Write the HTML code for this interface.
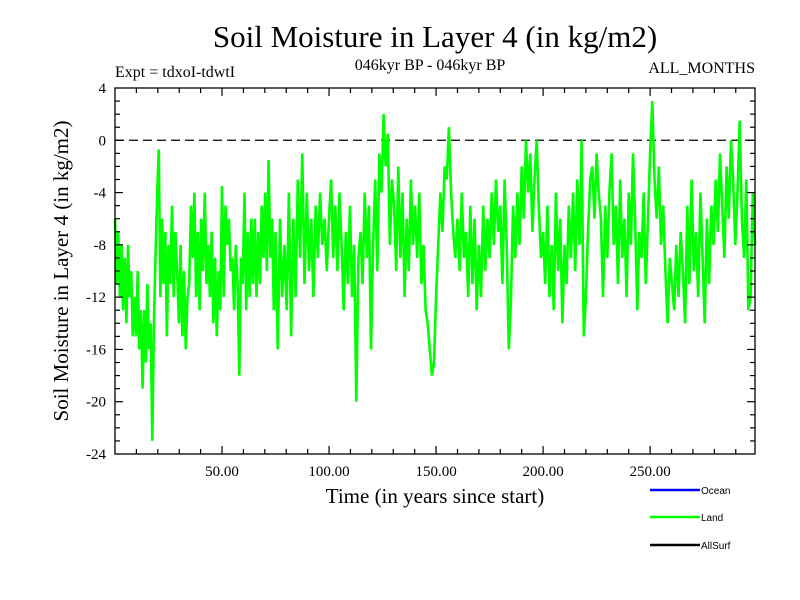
<!DOCTYPE html>
<html><head><meta charset="utf-8"><style>
body{margin:0;background:#fff}
svg{display:block}
text{font-family:"Liberation Serif",serif;fill:#000}
.lg{font-family:"Liberation Sans",sans-serif;font-size:10px}
</style></head><body>
<svg id="chart" width="800" height="600" xmlns="http://www.w3.org/2000/svg">
<rect width="800" height="600" fill="#fff"/>
<text x="435" y="47" font-size="31" text-anchor="middle">Soil Moisture in Layer 4 (in kg/m2)</text>
<text x="115" y="77" font-size="16">Expt = tdxoI-tdwtI</text>
<text x="430" y="70" font-size="16" text-anchor="middle">046kyr BP - 046kyr BP</text>
<text x="755" y="73" font-size="16" text-anchor="end">ALL_MONTHS</text>
<text transform="translate(68,271) rotate(-90)" font-size="21" text-anchor="middle">Soil Moisture in Layer 4 (in kg/m2)</text>
<text x="435" y="503" font-size="21" text-anchor="middle">Time (in years since start)</text>
<g id="series"></g>
<g id="axes"></g>
<g>
<line x1="650" y1="490" x2="700" y2="490" stroke="#0000ff" stroke-width="2.5"/>
<text class="lg" x="701" y="494">Ocean</text>
<line x1="650" y1="517" x2="700" y2="517" stroke="#00ff00" stroke-width="2.5"/>
<text class="lg" x="701" y="521">Land</text>
<line x1="650" y1="545" x2="700" y2="545" stroke="#000" stroke-width="2.5"/>
<text class="lg" x="701" y="549">AllSurf</text>
</g>
</svg>
<script>
const chunkStartYears = [0,25,50,75,100,150,200,250];
const chunkEndYears = [25,50,75,100,150,200,250,299];
const land0 = [-6,-11,-7,-12,-8,-13,-9,-14,-8,-12,-10,-15,-12,-15,-10,-16,-13,-19,-13,-17,-11,-16,-14,-23,-14,-9,-4,-0.7,-12,-6,-11,-7,-15];
const land1 = [-8,-11,-5,-12,-7,-10,-14,-8,-15,-10,-16,-12,-11,-5,-9,-4,-12,-7,-13,-6,-10,-4,-11,-8,-12,-7,-14,-9,-15,-10,-13];
const land2 = [-3.5,-12,-5,-8,-6,-10,-9,-13,-8,-11,-18,-9,-11,-4,-13,-7,-12,-6,-11,-6,-12,-7,-11,-5,-9,-4,-10,-1.5,-9,-6,-13];
const land3 = [-7,-16,-6,-12,-8,-13,-4,-15,-6,-12,-3,-9,-1,-11,-4,-10,-6,-12,-5,-9,-4,-8,-6,-10];
const land4 = [-6,-3,-9,-5,-10,-4,-8,-13,-7,-11,-5,-12,-8,-20,-9,-7,-11,-4,-9,-5,-16,-8,-3,-10,-1,-4,2,-2,0.5,-8,-3,-5,-10,-2,-9,-4,-12,-6,-10,-3,-8,-5,-9,-4,-11,-8,-13,-14,-16,-18,-17];
const land5 = [-12,-8,-4,-7,-2,-3,1,-4,-7,-9,-6,-10,-4,-9,-7,-12,-5,-11,-6,-13,-8,-12,-5,-10,-6,-9,-4,-8,-3,-7,-5,-11,-3,-8,-16,-12,-5,-9,-4,-8,-2,-6,0,-4,-1,-7,-3,0,-5,-9];
const land6 = [-7,-11,-5,-12,-8,-13,-4,-10,-6,-14,-8,-11,-5,-9,-4,-10,-3,-8,0,-15,-12,-7,-3,-2,-6,-1,-4,-6,-12,-5,-9,-4,-1,-8,-5,-11,-3,-9,-6,-12,-4,-8,-1,-6,-13,-7,-9,-4,-11,-6];
const land7 = [-1,3,-3,-6,-2,-8,-5,-10,-14,-9,-11,-13,-8,-12,-7,-10,-14,-5,-11,-3,-10,-7,-12,-4,-9,-14,-6,-11,-5,-8,-3,-7,-1,-5,-9,-2,-6,0,-3,-8,-4,1.5,-6,-9,-3,-13,-12,-4,-8];
const landChunks = [land0,land1,land2,land3,land4,land5,land6,land7];
const xTickValues = [50,100,150,200,250];
const xTickLabels = ["50.00","100.00","150.00","200.00","250.00"];
const yTickValues = [4,0,-4,-8,-12,-16,-20,-24];
const yTickLabels = ["4","0","-4","-8","-12","-16","-20","-24"];
const xMin=0,xMax=299,yMin=-24,yMax=4;
const L=115,R=755,T=88,B=454;
const sx=v=>L+(v-xMin)/(xMax-xMin)*(R-L);
const sy=v=>B-(v-yMin)/(yMax-yMin)*(B-T);
const NS="http://www.w3.org/2000/svg";
function mk(tag,attrs,parent){const e=document.createElementNS(NS,tag);for(const k in attrs)e.setAttribute(k,attrs[k]);parent.appendChild(e);return e;}
const series=document.getElementById('series');
const ptsArr=[];
landChunks.forEach((vals,c)=>{
  const s=chunkStartYears[c], e=chunkEndYears[c], last=(c===landChunks.length-1);
  const step=(e-s)/(last?vals.length-1:vals.length);
  vals.forEach((v,i)=>ptsArr.push(sx(s+i*step).toFixed(1)+","+sy(v).toFixed(1)));
});
const zl=mk('line',{x1:L,x2:R,y1:sy(0),y2:sy(0),stroke:'#000','stroke-width':1.2,'stroke-dasharray':'9,5'},series);


const pl=mk('polyline',{points:ptsArr.join(" "),fill:'none',stroke:'#00ff00','stroke-width':2.6,'stroke-linejoin':'miter'},series);


const axes=document.getElementById('axes');
const fr=mk('rect',{x:L,y:T,width:R-L,height:B-T,fill:'none',stroke:'#000','stroke-width':1.3},axes);


for(let v=10;v<xMax;v+=10){
  const big=v%50===0, len=big?8:5;
  mk('line',{x1:sx(v),x2:sx(v),y1:B,y2:B-len,stroke:'#000','stroke-width':1.2},axes);
  mk('line',{x1:sx(v),x2:sx(v),y1:T,y2:T+len,stroke:'#000','stroke-width':1.2},axes);
}
xTickValues.forEach((v,i)=>{
  const t=mk('text',{x:sx(v),y:B+22,'font-size':15,'text-anchor':'middle'},axes);
  t.textContent=xTickLabels[i];
  
  
});
for(let v=yMin+1;v<yMax;v+=1){
  const big=v%4===0, len=big?8:5;
  mk('line',{x1:L,x2:L+len,y1:sy(v),y2:sy(v),stroke:'#000','stroke-width':1.2},axes);
  mk('line',{x1:R,x2:R-len,y1:sy(v),y2:sy(v),stroke:'#000','stroke-width':1.2},axes);
}
yTickValues.forEach((v,i)=>{
  const t=mk('text',{x:L-9,y:sy(v)+5,'font-size':15,'text-anchor':'end'},axes);
  t.textContent=yTickLabels[i];
  
  
});
</script>
</body></html>
